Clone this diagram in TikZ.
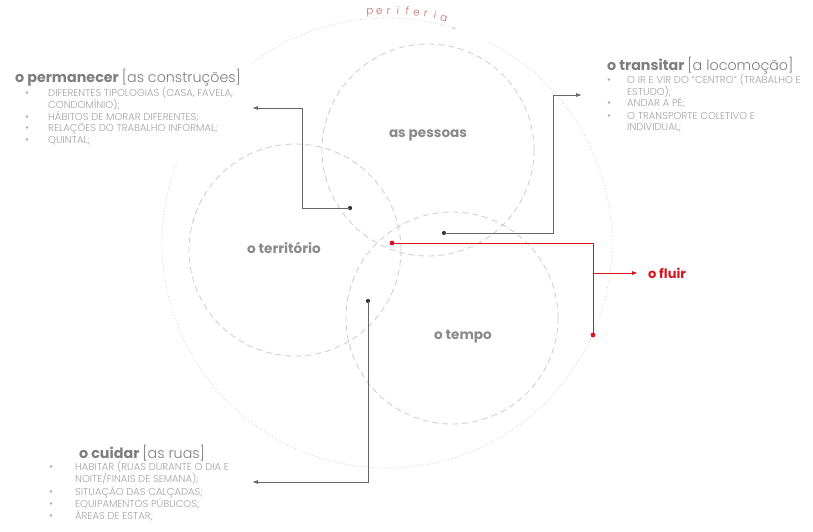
\documentclass[tikz,border=0pt]{standalone}
\usepackage{fontspec}
\setmainfont{Poppins}
\newfontfamily\poplight{Poppins Light}
\usetikzlibrary{arrows.meta,calc}
\definecolor{ringgray}{HTML}{CCCCCC}
\definecolor{outergray}{HTML}{D6D6D6}
\definecolor{conngray}{HTML}{666666}
\definecolor{dotgray}{HTML}{333333}
\definecolor{lblgray}{HTML}{8A8A8A}
\definecolor{ttlgray}{HTML}{7E7E7E}
\definecolor{itemgray}{HTML}{A2A2A2}
\definecolor{bulgray}{HTML}{ABABAB}
\definecolor{fluirred}{HTML}{D9141E}
\definecolor{perired}{HTML}{C86A6A}
\begin{document}
\begin{tikzpicture}[x=1pt,y=-1pt,
  ring/.style={draw=ringgray, dash pattern=on 6pt off 4pt, line width=0.8pt, circle, minimum size=212pt, inner sep=0pt},
  outer/.style={draw=outergray, dash pattern=on 1.2pt off 2pt, line width=0.7pt},
  conn/.style={draw=conngray, line width=0.9pt},
  redconn/.style={draw=fluirred, line width=0.9pt},
  tip/.style={-{Latex[length=6pt,width=4pt]}},
  dot/.style={circle, fill=dotgray, inner sep=0pt, minimum size=4.2pt},
  reddot/.style={circle, fill=fluirred, inner sep=0pt, minimum size=4.8pt},
  lbl/.style={font=\bfseries\fontsize{13.6}{14}\selectfont, text=lblgray, inner sep=0pt},
  ttl/.style={anchor=base west, font=\fontsize{14.3}{15}\selectfont, text=ttlgray, inner sep=0pt},
  item/.style={anchor=base west, font=\poplight\fontsize{10}{11}\selectfont, text=itemgray, inner sep=0pt},
  bul/.style={circle, fill=bulgray, inner sep=0pt, minimum size=2.8pt},
  peri/.style={anchor=base, font=\poplight\fontsize{10.5}{10.5}\selectfont, text=perired, inner sep=0pt}
]
\useasboundingbox (0,0) rectangle (813,531);

% outer "periferia" circle
\coordinate (O) at (387,243);
\draw[outer, -{Latex[length=4pt,width=3pt]}] plot[smooth, domain=127:72, samples=60] ({387+225*cos(\x)},{243-225*sin(\x)});
\draw[outer] plot[smooth, domain=63:-202, samples=240] ({387+225*cos(\x)},{243-225*sin(\x)});
\foreach \ch [count=\i] in {p,e,r,i,f,e,r,i,a}{
  \pgfmathsetmacro{\ang}{94.2-(\i-1)*2.3}
  \node[peri, rotate=\ang-90] (p\i) at ({387+229*cos(\ang)},{243-229*sin(\ang)}) {\ch};
}

% three circles
\node[ring] (cpes) at (428,150) {};
\node[ring] (cter) at (295,250) {};
\node[ring] (ctem) at (452,318) {};
\node[lbl] (lpes) at (428,135) {as pessoas};
\node[lbl] (lter) at (284,248) {o território};
\node[lbl] (ltem) at (463,337) {o tempo};

% o permanecer
\node[ttl] (tperm) at (15,82) {\bfseries o permanecer {\mdseries\poplight [as construções]}};
\foreach \y/\t/\b in {96/{DIFERENTES TIPOLOGIAS (CASA, FAVELA,}/1, 108/{CONDOMÍNIO);}/0, 120/{HÁBITOS DE MORAR DIFERENTES;}/1, 131/{RELAÇÕES DO TRABALHO INFORMAL;}/1, 143/{QUINTAL;}/1}{
  \node[item] at (48,\y) {\t};
  \ifnum\b=1 \node[bul] at (27,\y-3.5) {};\fi
}

% o transitar
\node[ttl] (ttran) at (607,70) {\bfseries o transitar {\mdseries\poplight [a locomoção]}};
\foreach \y/\t/\b in {83/{O IR E VIR DO “CENTRO” (TRABALHO E}/1, 95/{ESTUDO);}/0, 106/{ANDAR A PÉ;}/1, 119/{O TRANSPORTE COLETIVO E}/1, 130/{INDIVIDUAL;}/0}{
  \node[item] at (627,\y) {\t};
  \ifnum\b=1 \node[bul] at (609,\y-3.5) {};\fi
}

% o cuidar
\node[ttl] (tcuid) at (79,458) {\bfseries o cuidar {\mdseries\poplight [as ruas]}};
\foreach \y/\t/\b in {470/{HABITAR (RUAS DURANTE O DIA E}/1, 482/{NOITE/FINAIS DE SEMANA);}/0, 495/{SITUAÇÃO DAS CALÇADAS;}/1, 507/{EQUIPAMENTOS PÚBLICOS;}/1, 519/{ÁREAS DE ESTAR;}/1}{
  \node[item] at (75,\y) {\t};
  \ifnum\b=1 \node[bul] at (51,\y-3.5) {};\fi
}

% connectors
\node[dot] (d1) at (350,208) {};
\coordinate (k1) at (302,108);
\coordinate (a1) at (252,108);
\draw[conn,tip] (d1.center) -| (k1) -- (a1);

\node[dot] (d2) at (444,233) {};
\coordinate (k2) at (553,95);
\coordinate (a2) at (582,95);
\draw[conn,tip] (d2.center) -| (k2) -- (a2);

\node[dot] (d3) at (368,301) {};
\coordinate (a3) at (252,482);
\draw[conn,tip] (d3.center) |- (a3);

% o fluir
\node[reddot] (d4) at (392,243) {};
\node[reddot] (d5) at (593,335) {};
\coordinate (b4) at (593,273);
\coordinate (a4) at (638,273);
\draw[redconn] (d4.center) -| (d5.center);
\draw[redconn,tip] (b4) -- (a4);
\node[anchor=west, font=\bfseries\fontsize{13}{13}\selectfont, text=fluirred, inner sep=0pt] (lfl) at (648,273) {o fluir};
\end{tikzpicture}
\end{document}
